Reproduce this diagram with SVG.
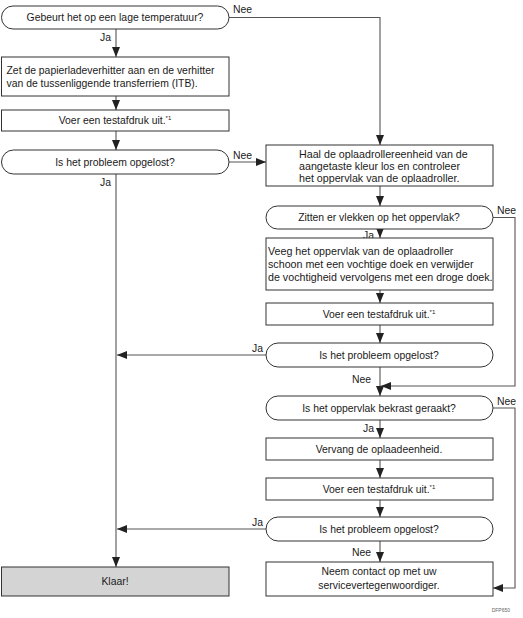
<svg xmlns="http://www.w3.org/2000/svg" width="523" height="618" viewBox="0 0 523 618">
<style>
text{font-family:"Liberation Sans",Arial,sans-serif;font-size:10.4px;fill:#1a1a1a}
.c{text-anchor:middle}
.box{fill:#fff;stroke:#333;stroke-width:1}
.done{fill:#d4d4d4;stroke:#333;stroke-width:1}
.ln{fill:none;stroke:#555;stroke-width:1.1}
.sup{font-size:6px}
.big{font-size:10.7px}
</style>
<defs>
<marker id="ah" viewBox="0 0 10 8" refX="10" refY="4" markerWidth="10" markerHeight="8" markerUnits="userSpaceOnUse" orient="auto">
<path d="M0,0 L10,4 L0,8 z" fill="#222"/>
</marker>
</defs>
<rect width="523" height="618" fill="#fff"/>
<g id="connectors">
<path class="ln" d="M116,29 V57" marker-end="url(#ah)"/>
<path class="ln" d="M116,96 V110" marker-end="url(#ah)"/>
<path class="ln" d="M116,131 V150" marker-end="url(#ah)"/>
<path class="ln" d="M116,174 V567" marker-end="url(#ah)"/>
<path class="ln" d="M229,17.5 H380 V145" marker-end="url(#ah)"/>
<path class="ln" d="M229,162 H266" marker-end="url(#ah)"/>
<path class="ln" d="M380,186 V206" marker-end="url(#ah)"/>
<path class="ln" d="M380,229 V238" marker-end="url(#ah)"/>
<path class="ln" d="M380,290 V303" marker-end="url(#ah)"/>
<path class="ln" d="M380,325 V343" marker-end="url(#ah)"/>
<path class="ln" d="M266,355 H117" marker-end="url(#ah)"/>
<path class="ln" d="M380,367 V396" marker-end="url(#ah)"/>
<path class="ln" d="M493,217.5 H515 V386 H381" marker-end="url(#ah)"/>
<path class="ln" d="M380,420 V438" marker-end="url(#ah)"/>
<path class="ln" d="M493,408 H515 V588 H493" marker-end="url(#ah)"/>
<path class="ln" d="M380,460 V478" marker-end="url(#ah)"/>
<path class="ln" d="M380,500 V517" marker-end="url(#ah)"/>
<path class="ln" d="M266,529 H117" marker-end="url(#ah)"/>
<path class="ln" d="M380,541 V562" marker-end="url(#ah)"/>
<text x="233" y="13">Nee</text>
<text x="100" y="41">Ja</text>
<text x="233" y="159">Nee</text>
<text x="100" y="186">Ja</text>
<text x="497" y="214">Nee</text>
<text x="363" y="239">Ja</text>
<text x="252" y="352">Ja</text>
<text x="352" y="383">Nee</text>
<text x="497" y="405">Nee</text>
<text x="363" y="432">Ja</text>
<text x="252" y="526">Ja</text>
<text x="352" y="556">Nee</text>
</g>
<g id="d1">
<rect class="box" x="1.5" y="6" width="227.5" height="23" rx="11.5"/>
<text class="c" x="115" y="21">Gebeurt het op een lage temperatuur?</text>
</g>
<g id="zet">
<rect class="box" x="1.5" y="57" width="227.5" height="39"/>
<text x="6.5" y="74">Zet de papierladeverhitter aan en de verhitter</text>
<text x="6.5" y="87">van de tussenliggende transferriem (ITB).</text>
</g>
<g id="voer1">
<rect class="box" x="1.5" y="110" width="227.5" height="21"/>
<text class="c" x="115" y="124">Voer een testafdruk uit.<tspan class="sup" dy="-4">*1</tspan></text>
</g>
<g id="d2">
<rect class="box" x="1.5" y="150" width="227.5" height="24" rx="12"/>
<text class="c" x="115" y="165.5">Is het probleem opgelost?</text>
</g>
<g id="klaar">
<rect class="done" x="1.5" y="567" width="227.5" height="29"/>
<text class="c" x="115" y="585">Klaar!</text>
</g>
<g id="haal">
<rect class="box" x="266" y="145" width="227" height="41"/>
<text class="big" x="299" y="157.5">Haal de oplaadrollereenheid van de</text>
<text class="big" x="299" y="169.5">aangetaste kleur los en controleer</text>
<text class="big" x="299" y="181.5">het oppervlak van de oplaadroller.</text>
</g>
<g id="zitten">
<rect class="box" x="266" y="206" width="227" height="23" rx="11.5"/>
<text class="c" x="379" y="221">Zitten er vlekken op het oppervlak?</text>
</g>
<g id="veeg">
<rect class="box" x="266" y="238" width="227" height="52"/>
<text class="big" x="268" y="254.5">Veeg het oppervlak van de oplaadroller</text>
<text class="big" x="268" y="267.5">schoon met een vochtige doek en verwijder</text>
<text class="big" x="268" y="280.5">de vochtigheid vervolgens met een droge doek.</text>
</g>
<g id="voer2">
<rect class="box" x="266" y="303" width="227" height="22"/>
<text class="c" x="379" y="317.5">Voer een testafdruk uit.<tspan class="sup" dy="-4">*1</tspan></text>
</g>
<g id="d3">
<rect class="box" x="266" y="343" width="227" height="24" rx="12"/>
<text class="c" x="379" y="358.5">Is het probleem opgelost?</text>
</g>
<g id="bekrast">
<rect class="box" x="266" y="396" width="227" height="24" rx="12"/>
<text class="c" x="379" y="411.5">Is het oppervlak bekrast geraakt?</text>
</g>
<g id="vervang">
<rect class="box" x="266" y="438" width="227" height="22"/>
<text class="c" x="379" y="452.5">Vervang de oplaadeenheid.</text>
</g>
<g id="voer3">
<rect class="box" x="266" y="478" width="227" height="22"/>
<text class="c" x="379" y="492.5">Voer een testafdruk uit.<tspan class="sup" dy="-4">*1</tspan></text>
</g>
<g id="d4">
<rect class="box" x="266" y="517" width="227" height="24" rx="12"/>
<text class="c" x="379" y="532.5">Is het probleem opgelost?</text>
</g>
<g id="neem">
<rect class="box" x="266" y="562" width="227" height="34"/>
<text class="c" x="379" y="575">Neem contact op met uw</text>
<text class="c" x="379" y="589">servicevertegenwoordiger.</text>
</g>
<text x="510" y="612" style="font-size:5px;fill:#666;text-anchor:end">DFP650</text>
</svg>
